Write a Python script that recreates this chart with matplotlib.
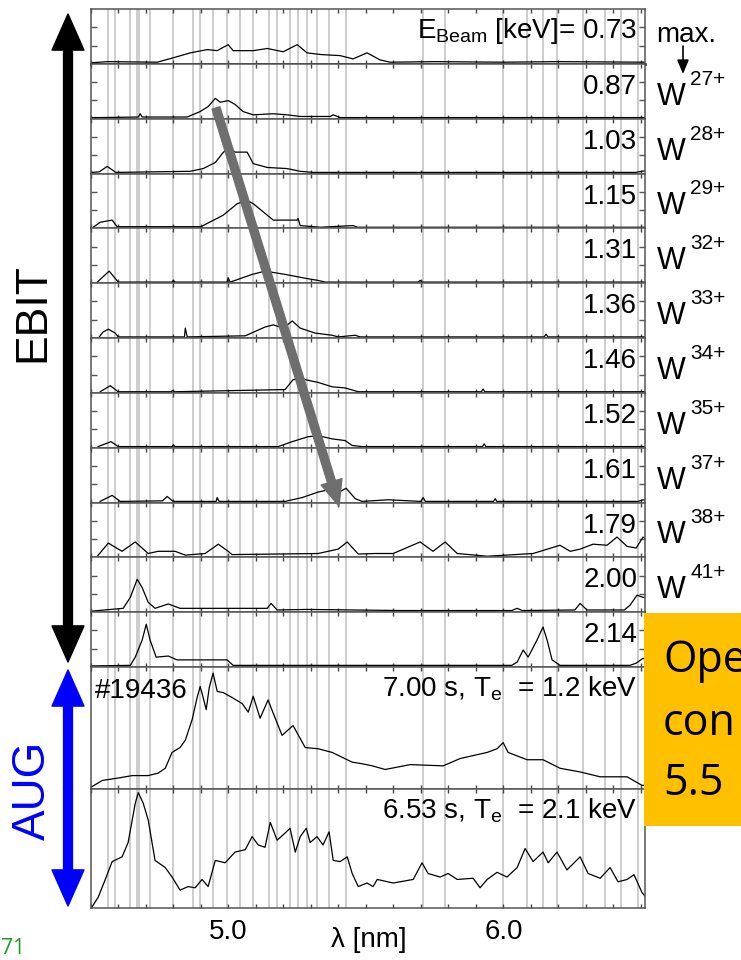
import numpy as np
import matplotlib
matplotlib.use("Agg")
import matplotlib.pyplot as plt
from matplotlib.patches import FancyArrowPatch, Rectangle
from matplotlib.ticker import MultipleLocator, FuncFormatter

plt.rcParams['font.family'] = ['Liberation Sans', 'DejaVu Sans']
plt.rcParams['mathtext.fontset'] = 'custom'
plt.rcParams['mathtext.rm'] = 'Liberation Sans'
plt.rcParams['mathtext.it'] = 'Liberation Sans:italic'

# beam energies of the EBIT spectra (keV) and charge state of the max.
e_beam = ['0.73', '0.87', '1.03', '1.15', '1.31', '1.36', '1.46', '1.52', '1.61', '1.79', '2.00', '2.14']
ions = ['27+', '28+', '29+', '32+', '33+', '34+', '35+', '37+', '38+', '41+']

# known line positions (nm)
line_pos = [4.563, 4.588, 4.643, 4.668, 4.675, 4.715, 4.799, 4.872, 4.897, 4.944, 4.995,
            5.043, 5.090, 5.148, 5.177, 5.225, 5.254, 5.286, 5.322, 5.366, 5.428, 5.708,
            5.788, 5.999, 6.086, 6.144, 6.195, 6.289, 6.369, 6.427, 6.489]

# spectra: wavelength (nm), relative intensity
wl_073 = [4.504, 4.559, 4.741, 4.799, 4.861, 4.923, 4.959, 4.999, 5.017, 5.090, 5.141, 5.199,
          5.250, 5.286, 5.334, 5.406, 5.453, 5.504, 5.552, 5.588, 5.750, 6.000, 6.200, 6.515]
in_073 = [0.02, 0.04, 0.03, 0.11, 0.20, 0.26, 0.24, 0.35, 0.24, 0.24, 0.28, 0.22,
          0.35, 0.20, 0.17, 0.15, 0.09, 0.20, 0.07, 0.03, 0.04, 0.03, 0.04, 0.03]

wl_087 = [4.504, 4.534, 4.672, 4.679, 4.686, 4.850, 4.897, 4.926, 4.952, 4.970, 4.999,
          5.024, 5.053, 5.090, 5.163, 5.213, 5.261, 5.370, 5.381, 5.406, 6.515]
in_087 = [0.02, 0.02, 0.03, 0.09, 0.03, 0.03, 0.13, 0.22, 0.37, 0.30, 0.33,
          0.26, 0.13, 0.07, 0.09, 0.07, 0.04, 0.04, 0.07, 0.02, 0.02]

wl_103 = [4.504, 4.530, 4.559, 4.590, 4.861, 4.908, 4.952, 4.977, 4.999, 5.024, 5.068,
          5.090, 5.141, 5.213, 5.261, 5.308, 6.480, 6.515]
in_103 = [0.02, 0.03, 0.13, 0.02, 0.04, 0.09, 0.20, 0.36, 0.48, 0.39, 0.39,
          0.18, 0.11, 0.09, 0.04, 0.02, 0.02, 0.05]

wl_115 = [4.508, 4.533, 4.577, 4.595, 4.900, 4.923, 4.981, 5.032, 5.068, 5.090, 5.163,
          5.250, 5.253, 5.261, 5.334, 5.453, 5.470, 6.515]
in_115 = [0.02, 0.11, 0.15, 0.03, 0.03, 0.09, 0.24, 0.45, 0.51, 0.45, 0.15,
          0.15, 0.18, 0.05, 0.02, 0.05, 0.02, 0.02]

wl_131 = [4.523, 4.566, 4.599, 4.795, 4.799, 4.806, 4.995, 4.999, 5.006, 5.024, 5.086,
          5.133, 5.206, 5.279, 5.326, 5.352, 5.690, 5.697, 5.704, 6.515]
in_131 = [0.02, 0.22, 0.02, 0.02, 0.05, 0.02, 0.02, 0.10, 0.02, 0.05, 0.16,
          0.22, 0.16, 0.09, 0.05, 0.02, 0.02, 0.05, 0.02, 0.02]

wl_136 = [4.530, 4.544, 4.563, 4.588, 4.599, 4.840, 4.843, 4.850, 5.061, 5.133, 5.163,
          5.199, 5.232, 5.261, 5.315, 5.377, 5.399, 5.461, 5.479, 6.148, 6.155, 6.162, 6.515]
in_136 = [0.02, 0.11, 0.16, 0.09, 0.02, 0.02, 0.18, 0.02, 0.04, 0.20, 0.24,
          0.18, 0.31, 0.18, 0.09, 0.05, 0.02, 0.05, 0.02, 0.02, 0.07, 0.02, 0.02]

wl_146 = [4.533, 4.570, 4.599, 4.792, 4.795, 4.806, 5.206, 5.235, 5.261, 5.326, 5.377,
          5.424, 5.472, 5.920, 5.926, 5.932, 6.515]
in_146 = [0.02, 0.13, 0.02, 0.02, 0.04, 0.02, 0.06, 0.24, 0.26, 0.19, 0.11,
          0.09, 0.02, 0.02, 0.07, 0.02, 0.02]

wl_152 = [4.526, 4.573, 4.599, 4.795, 4.799, 4.806, 5.181, 5.232, 5.290, 5.326, 5.377,
          5.424, 5.450, 5.486, 5.924, 5.930, 5.936, 6.515]
in_152 = [0.02, 0.11, 0.02, 0.02, 0.05, 0.02, 0.02, 0.11, 0.20, 0.22, 0.16,
          0.13, 0.04, 0.02, 0.02, 0.07, 0.02, 0.02]

wl_161 = [4.533, 4.577, 4.606, 4.760, 4.777, 4.799, 4.955, 4.959, 4.966, 5.206, 5.268,
          5.326, 5.370, 5.395, 5.428, 5.461, 5.486, 5.581, 5.700, 5.708, 5.716, 5.964,
          5.970, 5.976, 6.490, 6.508, 6.515]
in_161 = [0.02, 0.13, 0.02, 0.03, 0.11, 0.02, 0.02, 0.09, 0.02, 0.02, 0.09,
          0.19, 0.24, 0.17, 0.26, 0.07, 0.02, 0.05, 0.02, 0.09, 0.02, 0.02,
          0.07, 0.02, 0.02, 0.05, 0.04]

wl_179 = [4.523, 4.563, 4.613, 4.661, 4.708, 4.744, 4.806, 4.843, 4.915, 4.963, 4.999,
          5.013, 5.326, 5.399, 5.432, 5.472, 5.533, 5.599, 5.697, 5.744, 5.788, 5.832,
          5.941, 6.108, 6.206, 6.243, 6.279, 6.326, 6.377, 6.413, 6.450, 6.483, 6.508, 6.515]
in_179 = [0.02, 0.26, 0.11, 0.28, 0.07, 0.11, 0.11, 0.04, 0.07, 0.24, 0.11,
          0.05, 0.07, 0.15, 0.28, 0.06, 0.07, 0.07, 0.28, 0.11, 0.28, 0.07,
          0.02, 0.07, 0.22, 0.11, 0.15, 0.24, 0.22, 0.37, 0.20, 0.17, 0.37, 0.35]

wl_200 = [4.504, 4.617, 4.643, 4.668, 4.686, 4.708, 4.733, 4.781, 4.824, 5.141, 5.155,
          5.177, 5.286, 5.624, 6.030, 6.050, 6.069, 6.260, 6.279, 6.304, 6.440, 6.461,
          6.486, 6.508, 6.515]
in_200 = [0.02, 0.07, 0.27, 0.60, 0.45, 0.18, 0.07, 0.15, 0.07, 0.07, 0.16,
          0.04, 0.05, 0.03, 0.03, 0.07, 0.03, 0.04, 0.16, 0.04, 0.04, 0.13,
          0.31, 0.27, 0.27]

wl_214 = [4.504, 4.643, 4.661, 4.686, 4.701, 4.715, 4.737, 4.781, 4.813, 4.886, 4.995,
          5.017, 6.030, 6.050, 6.072, 6.090, 6.122, 6.144, 6.159, 6.177, 6.206, 6.460,
          6.483, 6.508, 6.515]
in_214 = [0.02, 0.03, 0.18, 0.49, 0.78, 0.49, 0.18, 0.20, 0.13, 0.13, 0.13,
          0.03, 0.03, 0.09, 0.31, 0.18, 0.49, 0.73, 0.49, 0.13, 0.03, 0.03,
          0.07, 0.16, 0.14]

# ASDEX Upgrade discharge #19436
wl_aug1 = [4.504, 4.541, 4.599, 4.650, 4.708, 4.744, 4.770, 4.795, 4.824, 4.843, 4.868,
           4.886, 4.897, 4.908, 4.919, 4.930, 4.944, 4.959, 4.981, 5.013, 5.050, 5.072,
           5.090, 5.115, 5.144, 5.163, 5.195, 5.235, 5.279, 5.326, 5.377, 5.450, 5.479,
           5.523, 5.570, 5.661, 5.781, 5.843, 5.941, 5.977, 5.999, 6.017, 6.086, 6.144,
           6.206, 6.279, 6.352, 6.450, 6.504, 6.515]
in_aug1 = [0.02, 0.07, 0.09, 0.11, 0.11, 0.13, 0.17, 0.30, 0.34, 0.40, 0.57,
           0.75, 0.84, 0.75, 0.65, 0.83, 0.95, 0.80, 0.79, 0.75, 0.70, 0.63,
           0.76, 0.58, 0.73, 0.62, 0.44, 0.52, 0.34, 0.33, 0.30, 0.22, 0.21,
           0.19, 0.16, 0.20, 0.19, 0.25, 0.30, 0.33, 0.38, 0.30, 0.24, 0.24,
           0.17, 0.14, 0.10, 0.10, 0.03, 0.03]

wl_aug2 = [4.504, 4.526, 4.552, 4.577, 4.613, 4.635, 4.661, 4.672, 4.690, 4.708, 4.733,
           4.770, 4.795, 4.824, 4.853, 4.879, 4.904, 4.926, 4.952, 4.988, 5.024, 5.061,
           5.086, 5.108, 5.133, 5.152, 5.177, 5.206, 5.224, 5.243, 5.261, 5.283, 5.297,
           5.322, 5.344, 5.366, 5.381, 5.406, 5.432, 5.450, 5.472, 5.504, 5.526, 5.541,
           5.599, 5.672, 5.704, 5.726, 5.770, 5.799, 5.832, 5.890, 5.915, 5.941, 5.977,
           6.013, 6.050, 6.079, 6.108, 6.144, 6.163, 6.195, 6.231, 6.279, 6.308, 6.352,
           6.388, 6.417, 6.450, 6.475, 6.504, 6.515]
in_aug2 = [0.01, 0.09, 0.24, 0.39, 0.43, 0.55, 0.88, 0.97, 0.88, 0.74, 0.40,
           0.34, 0.26, 0.15, 0.18, 0.17, 0.24, 0.18, 0.40, 0.38, 0.47, 0.49,
           0.60, 0.53, 0.51, 0.72, 0.57, 0.63, 0.67, 0.47, 0.60, 0.67, 0.55,
           0.60, 0.53, 0.64, 0.40, 0.39, 0.43, 0.29, 0.18, 0.21, 0.18, 0.24,
           0.21, 0.24, 0.38, 0.29, 0.26, 0.29, 0.24, 0.25, 0.17, 0.24, 0.30,
           0.26, 0.34, 0.50, 0.39, 0.47, 0.38, 0.47, 0.32, 0.43, 0.29, 0.25,
           0.34, 0.22, 0.24, 0.28, 0.13, 0.10]

ebit = [(wl_073, in_073), (wl_087, in_087), (wl_103, in_103), (wl_115, in_115),
        (wl_131, in_131), (wl_136, in_136), (wl_146, in_146), (wl_152, in_152),
        (wl_161, in_161), (wl_179, in_179), (wl_200, in_200), (wl_214, in_214)]
aug = [(wl_aug1, in_aug1), (wl_aug2, in_aug2)]
aug_labels = [r'7.00 s, T$_{\rm e}$  = 1.2 keV', r'6.53 s, T$_{\rm e}$  = 2.1 keV']

W, H = 741, 960
fig = plt.figure(figsize=(W / 100, H / 100), dpi=100)
gs = fig.add_gridspec(14, 1, left=91 / W, right=645 / W, top=1 - 9 / H, bottom=1 - 908 / H,
                      hspace=0, height_ratios=[1] * 12 + [2.225, 2.17])
axes = [fig.add_subplot(gs[i]) for i in range(14)]

for i, ax in enumerate(axes):
    wl, it = (ebit + aug)[i]
    for p in line_pos:
        ax.axvline(p, color='#c9c9c9', lw=1.3, zorder=0)
    ax.plot(wl, it, color='black', lw=0.9, zorder=2)
    ax.set_xlim(4.50, 6.515)
    ax.set_ylim(0, 1)
    for s in ax.spines.values():
        s.set_color('#555555')
        s.set_linewidth(1.1)
    ax.xaxis.set_major_locator(MultipleLocator(0.1))
    ax.tick_params(axis='x', direction='in', top=True, bottom=True, length=3,
                   width=1, color='#444444', labelbottom=False)
    if i < 12:
        ax.set_yticks([1 / 3, 2 / 3])
        ax.tick_params(axis='y', direction='in', left=True, right=True, length=4,
                       width=1, color='#555555', labelleft=False)
    else:
        ax.set_yticks([])

axes[0].spines['bottom'].set_color('black')
axes[0].spines['bottom'].set_linewidth(1.8)

# energy labels
axes[0].text(0.986, 0.48, r'E$_{\rm Beam}$ [keV]= ' + e_beam[0], transform=axes[0].transAxes,
             ha='right', va='baseline', fontsize=20)
for ax, lab in zip(axes[1:12], e_beam[1:]):
    ax.text(0.986, 0.45, lab, transform=ax.transAxes, ha='right', va='baseline', fontsize=20)

# charge states on the right
axes[0].text(1.02, 0.39, 'max.', transform=axes[0].transAxes, ha='left', va='baseline',
             fontsize=20, clip_on=False)
for ax, ion in zip(axes[1:11], ions):
    ax.text(1.022, 0.40, 'W', transform=ax.transAxes, ha='left', va='center',
            fontsize=22, clip_on=False)
    ax.text(1.082, 0.72, ion, transform=ax.transAxes, ha='left', va='center',
            fontsize=15, clip_on=False)

# AUG panels
axes[12].text(0.007, 0.75, '#19436', transform=axes[12].transAxes, ha='left', va='baseline',
              fontsize=20)
for ax, lab in zip(axes[12:], aug_labels):
    ax.text(0.986, 0.755, lab, transform=ax.transAxes, ha='right', va='baseline', fontsize=20)

bot = axes[-1]
bot.tick_params(axis='x', labelbottom=True, labelsize=20, pad=8)
bot.xaxis.set_major_formatter(FuncFormatter(
    lambda v, p: f'{v:.1f}' if min(abs(v - 5.0), abs(v - 6.0)) < 1e-6 else ''))
bot.text(0.502, -0.265, 'λ [nm]', transform=bot.transAxes, ha='center', va='center',
         fontsize=20)


def fx(px):
    return px / W


def fy(py):
    return 1 - py / H


# arrow following the maximum
fig.add_artist(FancyArrowPatch((fx(216), fy(108)), (fx(339), fy(506)), transform=fig.transFigure,
                               arrowstyle='simple,head_length=1.4,head_width=1.2,tail_width=0.45',
                               mutation_scale=13, color='#6e6e6e', shrinkA=0, shrinkB=0, zorder=10))
fig.add_artist(FancyArrowPatch((fx(683), fy(46)), (fx(683), fy(74)), transform=fig.transFigure,
                               arrowstyle='-|>,head_length=0.6,head_width=0.25', mutation_scale=14,
                               color='black', lw=1.2, shrinkA=0, shrinkB=0, zorder=10))

# EBIT / AUG double arrows
big = 'simple,head_length=1.3,head_width=1.15,tail_width=0.32'
for top, bottom, col in [(14, 662, 'black'), (670, 906, '#0000ff')]:
    mid = (top + bottom) / 2
    for end in (top, bottom):
        fig.add_artist(FancyArrowPatch((fx(68), fy(mid)), (fx(68), fy(end)),
                                       transform=fig.transFigure, arrowstyle=big,
                                       mutation_scale=20, color=col, shrinkA=0, shrinkB=0))
fig.text(fx(33), fy(313), 'EBIT', rotation=90, ha='center', va='center', fontsize=32)
fig.text(fx(33), fy(790), 'AUG', rotation=90, ha='center', va='center', fontsize=33,
         color='#0000ff')

# callout box
fig.add_artist(Rectangle((fx(644), fy(826)), (741 - 644) / W, (826 - 613) / H,
                         transform=fig.transFigure, facecolor='#ffc000', edgecolor='none', zorder=20))
for txt, py in [('Ope', 672), ('con', 735), ('5.5', 795)]:
    fig.text(fx(663), fy(py), txt, family='Open Sans', fontsize=31, va='baseline', zorder=21)

fig.text(fx(1), fy(954), '71', family='Open Sans', fontsize=15, color='#1e9b1e',
         ha='left', va='baseline')

fig.savefig('out.png', dpi=100)
